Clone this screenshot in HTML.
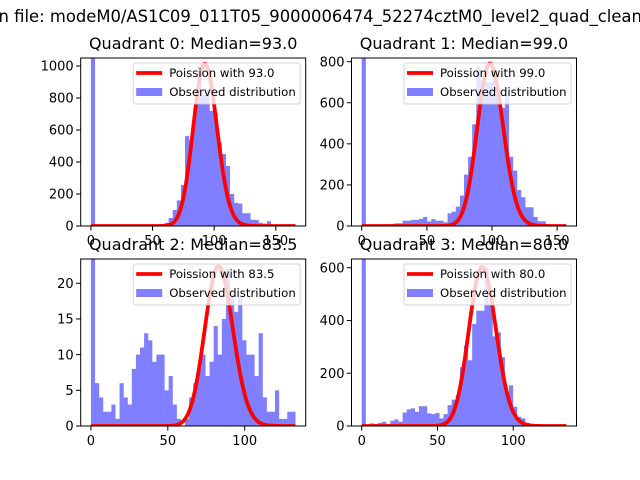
<!DOCTYPE html>
<html><head><meta charset="utf-8"><style>
body{margin:0;background:#fff}
svg{display:block;font-family:"DejaVu Sans","Liberation Sans",sans-serif}
</style></head><body>
<svg id="fig" width="640" height="480" viewBox="0 0 640 480">
<text x="-6" y="22" font-size="16.4">in file: modeM0/AS1C09_011T05_9000006474_52274cztM0_level2_quad_clean.evt</text>
</svg>
<script>
const titles = ["Quadrant 0: Median=93.0","Quadrant 1: Median=99.0","Quadrant 2: Median=83.5","Quadrant 3: Median=80.0"];
const medians = [93.0, 99.0, 83.5, 80.0];
const dataMax = [166, 157, 133, 135];
const curveScale = [24530, 19750, 513, 13520];
const yMax = [1050, 818, 23.4, 633];
const yTicks0 = [0,200,400,600,800,1000];
const yTicks1 = [0,200,400,600,800];
const yTicks2 = [0,5,10,15,20];
const yTicks3 = [0,200,400,600];
const xTicks0 = [0,50,100,150];
const xTicks1 = [0,50,100,150];
const xTicks2 = [0,50,100];
const xTicks3 = [0,50,100];
const counts0 = [5000,0,0,0,0,0,0,0,0,0,0,0,0,0,5,3,2,5,20,50,100,160,256,562,540,730,1000,820,850,720,700,520,450,375,200,145,140,80,80,40,38,20,15,30,5,2,1,0,0,0];
const counts1 = [5000,0,0,0,0,0,0,10,13,13,26,26,30,30,35,44,22,34,26,26,18,62,70,94,148,250,337,495,775,710,700,700,720,640,575,637,337,270,175,140,91,91,44,23,23,10,3,2,1,0];
const counts2 = [100,6,4,2,2,3,1,6,4,3,8,10,11,13,12,9,10,10,5,7,3,1,0,1,4,6,8,10,7,9,14,10,15,22,18,16,18,12,10,10,7,13,4,2,2,5,1,1,2,2];
const counts3 = [5000,0,10,8,12,16,8,20,25,16,51,63,67,54,75,75,48,45,49,29,45,79,100,117,223,305,249,387,437,437,600,460,340,355,261,125,154,73,35,29,12,8,5,2,1,1,0,0,0,0];

const allCounts=[counts0,counts1,counts2,counts3];
const allY=[yTicks0,yTicks1,yTicks2,yTicks3];
const allX=[xTicks0,xTicks1,xTicks2,xTicks3];
const boxes=[[80.7,58,305.7,226],[351.5,58,576.5,226],[80.7,259,305.7,426],[351.5,259,576.5,426]];
const NS="http://www.w3.org/2000/svg";
const fig=document.getElementById('fig');
function mk(tag,attrs,parent){const e=document.createElementNS(NS,tag);for(const k in attrs)e.setAttribute(k,attrs[k]);(parent||fig).appendChild(e);return e;}
function lgam(n){let s=0;for(let i=2;i<=n;i++)s+=Math.log(i);return s;}
function pmf(k,l){return Math.exp(k*Math.log(l)-l-lgam(k));}

for(let q=0;q<4;q++){
  const [L,T,R,B]=boxes[q];
  const dmax=dataMax[q];
  const x0=-0.05*dmax, x1=dmax*1.05;
  const X=v=>L+(v-x0)/(x1-x0)*(R-L);
  const Y=v=>B-v/yMax[q]*(B-T);
  const g=mk('g',{});
  
  
  const cp=mk('clipPath',{id:'c'+q},g);
  mk('rect',{x:L,y:T,width:R-L,height:B-T},cp);
  const bars=mk('g',{'clip-path':'url(#c'+q+')'},g);
  const counts=allCounts[q];
  const bw=dmax/counts.length;
  counts.forEach((c,i)=>{
    if(c<=0)return;
    const r=mk('rect',{x:X(i*bw),y:Y(c),width:X((i+1)*bw)-X(i*bw)+0.05,height:Y(0)-Y(c),fill:'rgba(0,0,255,0.5)'},bars);
    
    
  });
  let d='';
  for(let k=0;k<=dmax;k++){d+=(k?'L':'M')+X(k).toFixed(2)+','+Y(curveScale[q]*pmf(k,medians[q])).toFixed(2);}
  const pl=mk('path',{d:d,fill:'none',stroke:'red','stroke-width':3.8,'stroke-linejoin':'round'},bars);
  
  
  const fr=mk('rect',{x:L,y:T,width:R-L,height:B-T,fill:'none',stroke:'#000','stroke-width':1},g);
  
  
  allY[q].forEach(v=>{
    const y=Y(v);
    mk('line',{x1:L-4.7,x2:L,y1:y,y2:y,stroke:'#000','stroke-width':1},g);
    const t=mk('text',{x:L-7,y:y+4.7,'font-size':13,'text-anchor':'end'},g);
    t.textContent=v;
    
    
  });
  allX[q].forEach(v=>{
    const x=X(v);
    mk('line',{x1:x,x2:x,y1:B,y2:B+4.7,stroke:'#000','stroke-width':1},g);
    const t=mk('text',{x:x,y:B+19,'font-size':13,'text-anchor':'middle'},g);
    t.textContent=v;
    
    
  });
  const tt=mk('text',{x:(L+R)/2,y:T-9,'font-size':16,'text-anchor':'middle'},g);
  tt.textContent=titles[q];
  
  
  const lg=mk('g',{},g);
  
  
  const lx=R-172.5, ly=T+5;
  mk('rect',{x:lx,y:ly,width:167,height:41,rx:2.5,fill:'rgba(255,255,255,0.8)',stroke:'rgba(204,204,204,0.8)','stroke-width':1},lg);
  mk('line',{x1:lx+3,x2:lx+29,y1:ly+10,y2:ly+10,stroke:'red','stroke-width':3.8},lg);
  const t1=mk('text',{x:lx+36,y:ly+14,'font-size':11.7},lg);
  t1.textContent='Poission with '+medians[q].toFixed(1);
  
  
  mk('rect',{x:lx+3,y:ly+25,width:26,height:8,fill:'rgba(0,0,255,0.5)'},lg);
  const t2=mk('text',{x:lx+36,y:ly+33,'font-size':11.7},lg);
  t2.textContent='Observed distribution';
  
  
}
</script>
</body></html>
